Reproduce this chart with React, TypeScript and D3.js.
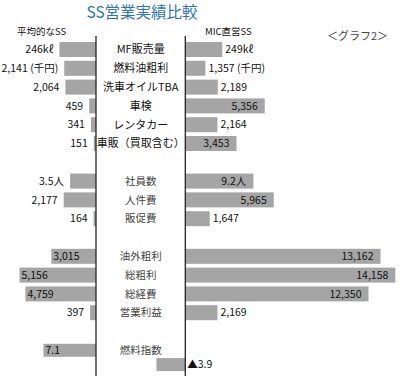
import React from "react";
import * as d3 from "d3";

const categories = [
  "MF販売量", "燃料油粗利", "洗車オイルTBA", "車検", "レンタカー", "車販（買取含む）",
  "", "社員数", "人件費", "販促費",
  "", "油外粗利", "総粗利", "総経費", "営業利益",
  "", "燃料指数",
];
const units = [
  "kl", "yen", "yen", "yen", "yen", "yen",
  "", "person", "yen", "yen",
  "", "yen", "yen", "yen", "yen",
  "", "index",
];
const avgValues = [246, 2141, 2064, 459, 341, 151, null, 3.5, 2177, 164, null, 3015, 5156, 4759, 397, null, 7.1];
const micValues = [249, 1357, 2189, 5356, 2164, 3453, null, 9.2, 5965, 1647, null, 13162, 14158, 12350, 2169, null, -3.9];
const avgLabels = ["246kℓ", "2,141 (千円)", "2,064", "459", "341", "151", "", "3.5人", "2,177", "164", "", "3,015", "5,156", "4,759", "397", "", "7.1"];
const micLabels = ["249kℓ", "1,357 (千円)", "2,189", "5,356", "2,164", "3,453", "", "9.2人", "5,965", "1,647", "", "13,162", "14,158", "12,350", "2,169", "", "▲3.9"];
const groupTitles = ["平均的なSS", "MIC直営SS"];
const chartTitle = "SS営業実績比較";
const chartNote = "＜グラフ2＞";

const FONT = "'Noto Sans CJK JP', 'Noto Sans', sans-serif";
const BAR = "#a5a5a5";

export default function App() {
  const W = 400, H = 380;
  const leftAxis = 96, rightAxis = 185.3;
  const y = d3.scalePoint<number>().domain(d3.range(categories.length)).range([49.5, 350.3]);
  const step = y.step();
  const scales: Record<string, d3.ScaleLinear<number, number>> = {
    kl: d3.scaleLinear().domain([0, 249]).range([0, 37]),
    yen: d3.scaleLinear().domain([0, 14158]).range([0, 210]),
    person: d3.scaleLinear().domain([0, 10]).range([0, 74]),
    index: d3.scaleLinear().domain([0, 10]).range([0, 74]),
  };
  const last = categories.length - 1;
  const insideMin = 40;
  const vfs = 10.5;

  const leftMarks = avgValues.map((v, i) => {
    if (v == null) return null;
    const w = scales[units[i]](v);
    const cy = y(i)!;
    const bh = i === last ? 13 : 15;
    const inside = w > insideMin;
    return (
      <g key={"l" + i}>
        <rect x={leftAxis - w} y={cy - bh / 2} width={w} height={bh} fill={BAR} />
        <text
          x={inside ? leftAxis - w + 2 : leftAxis - w - 6}
          y={cy}
          dy="0.36em"
          textAnchor={inside ? "start" : "end"}
          fontSize={vfs}
          fill="#111"
        >{avgLabels[i]}</text>
      </g>
    );
  });

  const rightMarks = micValues.map((v, i) => {
    if (v == null) return null;
    const w = scales[units[i]](Math.abs(v));
    const cy = i === last ? y(i)! + step * 0.76 : y(i)!;
    const bh = i === last ? 13 : 15;
    const neg = v < 0;
    const inside = !neg && w > insideMin;
    const x0 = neg ? rightAxis - w : rightAxis;
    let tx: number, anchor: string;
    if (neg) { tx = rightAxis + 2; anchor = "start"; }
    else if (inside) { tx = rightAxis + w - 7; anchor = "end"; }
    else { tx = rightAxis + w + 3; anchor = "start"; }
    return (
      <g key={"r" + i}>
        <rect x={x0} y={cy - bh / 2} width={w} height={bh} fill={BAR} />
        <text x={tx} y={cy} dy="0.36em" textAnchor={anchor} fontSize={vfs} fill="#111">{micLabels[i]}</text>
      </g>
    );
  });

  const mid = (leftAxis + rightAxis) / 2;

  return (
    <svg width={W} height={H} style={{ position: "absolute", left: 0, top: 0, background: "#fff" }} fontFamily={FONT}>
      <text x={142} y={18} textAnchor="middle" fontSize={15.5} fill="#2e75b6">{chartTitle}</text>
      <text x={17} y={35} fontSize={9.5} fill="#111">{groupTitles[0]}</text>
      <text x={205} y={35} fontSize={9.5} fill="#111">{groupTitles[1]}</text>
      <text x={327} y={39.5} fontSize={11} fill="#444">{chartNote}</text>
      {leftMarks}
      {rightMarks}
      {categories.map((c, i) => c ? (
        <text key={"c" + i} x={mid} y={y(i)!} dy="0.36em" textAnchor="middle" fontSize={i < 6 ? 11 : 10.5}
          fill={i < 6 ? "#111" : "#444"}>{c}</text>
      ) : null)}
      <line x1={leftAxis} x2={leftAxis} y1={36} y2={376} stroke="#222" strokeWidth={1.3} />
      <line x1={rightAxis} x2={rightAxis} y1={36} y2={376} stroke="#222" strokeWidth={1.3} />
    </svg>
  );
}
